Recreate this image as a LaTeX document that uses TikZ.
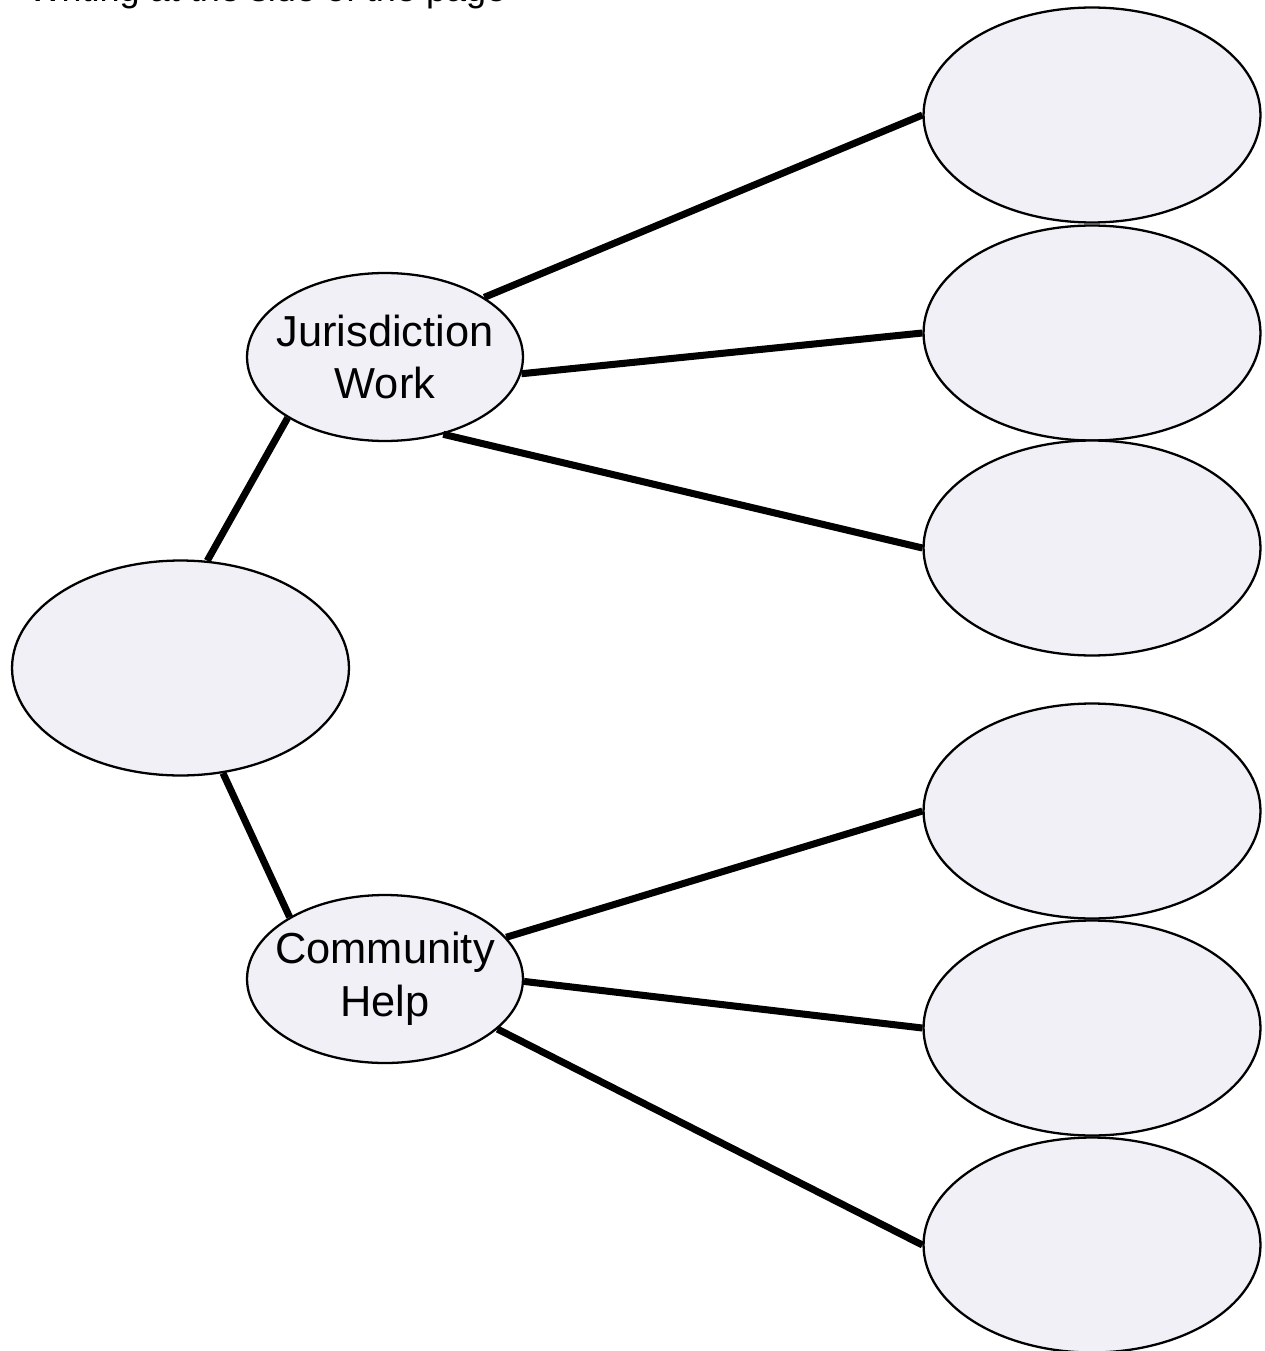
\documentclass[tikz,border=0pt]{standalone}
\usepackage{fontspec}
\setmainfont{Liberation Sans}
\usetikzlibrary{shapes.geometric}
\definecolor{bubblefill}{RGB}{241,240,247}
\tikzset{
	bubble/.style={ellipse, draw=black, line width=1.3pt, fill=bubblefill, inner sep=0pt, minimum width=6.74cm, minimum height=4.3cm},
	hub/.style={ellipse, draw=black, line width=1.3pt, fill=bubblefill, inner sep=0pt, minimum width=5.52cm, minimum height=3.36cm},
	hubtext/.style={align=center, inner sep=0pt, font=\fontsize{24.7pt}{30pt}\selectfont},
	link/.style={line width=4pt}
}

\begin{document}
\begin{tikzpicture}[x=0.02cm, y=-0.02cm]
			%%%%% START %%%%%
			\useasboundingbox (0, 0) rectangle (1264, 1351);
			
			\node[anchor=base west, inner sep=0pt, font=\fontsize{20.5pt}{26pt}\selectfont] (note) at (28, 1.5) {Writing at the side of the page};
			
			\node[bubble] (root) at (180.5, 668) {};
			\node[hub, label={[hubtext]center:Jurisdiction\\Work}] (jur) at (385, 357) {};
			\node[hub, label={[hubtext]center:Community\\Help}] (com) at (385, 979) {};
			
			\node[bubble] (j1) at (1092, 115) {};
			\node[bubble] (j2) at (1092, 333) {};
			\node[bubble] (j3) at (1092, 548) {};
			
			\node[bubble] (c1) at (1092, 811) {};
			\node[bubble] (c2) at (1092, 1028) {};
			\node[bubble] (c3) at (1092, 1245) {};
			
			\draw[link] (root.76.6) -- (jur.212);
			\draw[link] (root.-68) -- (com.147);
			
			\draw[link] (jur.31) -- (j1.west);
			\draw[link] (jur.-7.6) -- (j2.west);
			\draw[link] (jur.-53) -- (j3.west);
			
			\draw[link] (com.19) -- (c1.west);
			\draw[link] (com.-1) -- (c2.west);
			\draw[link] (com.-24) -- (c3.west);
			
			%%%%% END %%%%%
\end{tikzpicture}
\end{document}
